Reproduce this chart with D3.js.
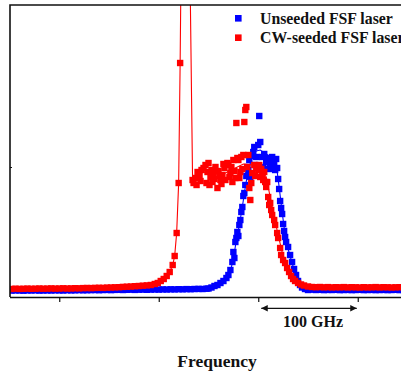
<!DOCTYPE html>
<html><head><meta charset="utf-8">
<script src="https://cdn.jsdelivr.net/npm/d3@7"></script>
<style>html,body{margin:0;padding:0;background:#fff;overflow:hidden}</style>
</head><body>
<svg id="chart" width="401" height="374"></svg>
<script>
// Frequency offset (GHz) and intensity (a.u.) — measured points
const blueFreq = [
-248,-244,-240,-236,-232,-228,-224,-220,-216,-212,-208,-204,-200,-196,-192,-188,-184,-180,-176,-172,
-168,-164,-160,-156,-152,-148,-144,-140,-136,-132,-128,-124,-120,-116,-112,-108,-104,-100,-96,-92,
-88,-84,-80,-76,-72,-68,-64,-60,-56,-52,
-50,-47,-44,-41,-38,-35,-32,-30,-28,-26,-25,-24,-23,-22,-21,-20,-19,-18,-17,-16,-15,-14,-13,-12,-11,-10,-9,-7,-5,-4,-2,0,1,2,4,6,8,10,12,14,16,18,19,20,21,22,23,24,25,26,27,28,30,32,34,36,38,40,42,44,47,50,
54,58,62,66,70,74,78,82,86,90,94,98,102,106,110,114,118,122,126,130,134,138,142,146,150,
-3,5,11,17,-8];
const blueIntensity = [
6.4,6.6,6.5,6.3,6.6,6.5,6.7,6.4,6.5,6.6,6.5,6.7,6.6,6.5,6.8,6.6,6.7,6.9,6.7,6.8,
6.9,7.0,6.8,7.0,7.1,6.9,7.1,7.2,7.0,7.2,7.3,7.1,7.3,7.4,7.2,7.4,7.5,7.4,7.6,7.5,
7.7,7.6,7.8,7.7,7.9,7.8,8.0,8.1,8.0,8.3,
8.5,9.5,11,12,14,16,19,22,27,35,45,39,55,59,65,61,72,77,85,90,101,104,112,121,130,127,137,141,145,150,140,152,181,155,140,143,135,139,134,140,132,138,129,118,108,96,89,83,73,66,60,55,50,42,35,28,22,16,12,9.5,8,7,
7.3,7.0,7.2,6.9,7.1,7.0,7.2,6.9,7.0,7.1,6.9,7.0,7.2,6.9,7.0,7.1,6.9,7.0,7.1,6.9,7.0,7.2,6.9,7.0,7.1,
132,130,128,127,120];
const redFreq = [
-248,-244,-240,-236,-232,-228,-224,-220,-216,-212,-208,-204,-200,-196,-192,-188,-184,-180,-176,-172,
-168,-164,-160,-156,-152,-148,-144,-140,-136,-132,-128,-124,-120,-116,-112,
-108,-104,-101,-98,-95,-92,-89,-86,-84,-82,-80,-78.5,-76,-73.5,-71,-68.5,
-66,-65,-63,-61,-59,-57,-55,-53,-52,-51,-50,-48,-47,-46,-45,-43,-41,-39,-38,-36,-34,-33,-31,-30,-28,-26,-25,-23,-22,-21,-20,-18,-17,-15,-14,-13,-12,-11,-10,-9,-8,-6,-4,-2,0,2,4,6,7,9,10,11,12,13,14,16,17,19,20,22,23,25,27,29,31,33,35,37,40,43,46,50,54,
58,62,66,70,74,78,82,86,90,94,98,102,106,110,114,118,122,126,130,134,138,142,146,150,
-62,-58,-49,-44,-40,-37,-35,-29,-27,-24,-19,-16,-7,-3,1,3,5,8];
const redIntensity = [
8.0,8.3,8.1,8.2,8.4,8.2,8.3,8.5,8.3,8.4,8.6,8.4,8.5,8.7,8.5,8.6,8.8,8.7,8.9,9.0,
8.9,9.1,9.2,9.1,9.4,9.5,9.7,9.8,10.1,10.3,10.5,10.8,11.0,11.3,11.6,
12,13,14,16,18,21,25,32,41,64,114,234,496,667,447,317,
117,114,119,125,121,127,129,132,114,125,134,120,127,115,124,130,109,121,117,122,129,117,134,132,124,115,137,119,174,139,137,125,140,142,175,187,190,130,142,109,97,124,132,129,127,120,122,125,115,115,100,92,94,87,82,77,72,64,59,49,42,37,34,29,25,21,18,16,14,12.5,11.5,10.5,10,
9.8,10.0,9.7,9.9,9.6,9.8,9.7,9.9,9.6,9.8,9.7,9.5,9.8,9.6,9.7,9.9,9.6,9.8,9.7,9.5,9.7,9.8,9.6,9.7,
112,116,112,118,126,113,133,120,130,126,119,128,114,121,132,128,117,110];
// Fitted guide curves
const blueFitFreq = [-250,-150,-80,-50,-44,-38,-32,-28,-25,-22,-19,-16,-13,-10,-6,-2,2,8,14,18,21,24,27,30,34,38,42,46,50,80,150];
const blueFitIntensity = [6.5,7,7.8,8.5,11,14,19,26,38,57,72,90,110,127,140,146,147,143,139,133,110,85,62,48,34,21,12,8.5,7.3,7,7];
const redFitFreq = [-250,-150,-120,-108,-101,-95,-89,-86,-84,-82,-80,-78.5,-76,-73.5,-71,-68.5,-66,-63,-55,-45,-35,-25,-15,-5,2,8,12,16,20,24,28,32,36,40,46,54,80,150];
const redFitIntensity = [8,9,11,12,14,18,25,32,41,64,114,234,496,667,447,317,117,121,125,123,123,128,133,132,128,120,100,80,62,45,32,23,17,14,11.5,10,9.7,9.7];

const seriesNames = ["Unseeded FSF laser", "CW-seeded FSF laser"];
const seriesColors = ["#0000ff", "#ff0000"];
const xTicks = [-200, -100, 0, 100];
const yTicks = [130];
const xLabel = "Frequency";
const spanLabel = "100 GHz";
const spanFrom = 3, spanTo = 99;

const svg = d3.select("#chart");
const font = "'Liberation Serif', 'Times New Roman', serif";
const x = d3.scaleLinear().domain([-250, 150]).range([9.5, 407.5]);
const y = d3.scaleLinear().domain([0, 292]).range([297, 5]);

svg.append("defs").append("clipPath").attr("id", "clip")
  .append("rect").attr("x", 10).attr("y", 5).attr("width", 400).attr("height", 292);

const series = [
  {name: seriesNames[0], color: seriesColors[0],
   data: blueFreq.map((f, i) => [f, blueIntensity[i]]),
   fit: blueFitFreq.map((f, i) => [f, blueFitIntensity[i]])},
  {name: seriesNames[1], color: seriesColors[1],
   data: redFreq.map((f, i) => [f, redIntensity[i]]),
   fit: redFitFreq.map((f, i) => [f, redFitIntensity[i]])}
];

const plot = svg.append("g").attr("clip-path", "url(#clip)");
const line = d3.line().x(d => x(d[0])).y(d => y(d[1]));
const sz = 6.4;
series.forEach(s => {
  plot.append("path").datum(s.fit).attr("d", line)
    .attr("fill", "none").attr("stroke", s.color).attr("stroke-width", 1.1);
  plot.append("g").selectAll("rect").data(s.data).join("rect")
    .attr("x", d => x(d[0]) - sz / 2).attr("y", d => y(d[1]) - sz / 2)
    .attr("width", sz).attr("height", sz).attr("fill", s.color);
});

// frame
svg.append("path").attr("d", `M${x.range()[0] + 0.5},${y(0)}V${y.range()[1]}H${x.range()[1]}`)
  .attr("fill", "none").attr("stroke", "#111").attr("stroke-width", 1.6);

const xAxis = svg.append("g").attr("transform", `translate(0,${y(0)})`)
  .call(d3.axisBottom(x).tickValues(xTicks).tickSize(5).tickSizeOuter(0).tickFormat(""));
xAxis.select(".domain").attr("stroke", "#111").attr("stroke-width", 1.6);
xAxis.selectAll(".tick line").attr("stroke", "#111").attr("stroke-width", 1.2);

const yAxis = svg.append("g").attr("transform", `translate(${x.range()[0] + 0.5},0)`)
  .call(d3.axisRight(y).tickValues(yTicks).tickSize(2).tickFormat(""));
yAxis.select(".domain").remove();
yAxis.selectAll(".tick line").attr("stroke", "#111");

// legend
const leg = svg.append("g");
series.forEach((s, i) => {
  const ly = 18.3 + i * 19.4;
  leg.append("rect").attr("x", 235).attr("y", ly - 3.3).attr("width", 6.6).attr("height", 6.6).attr("fill", s.color);
  leg.append("text").attr("x", 260).attr("y", ly + 5.5).text(s.name)
    .attr("font-family", font).attr("font-weight", "bold").attr("font-size", 15.8).attr("fill", "#111");
});

// 100 GHz span arrow
const defs = svg.select("defs");
defs.append("marker").attr("id", "ah").attr("viewBox", "0 0 10 10").attr("refX", 10).attr("refY", 5)
  .attr("markerWidth", 7).attr("markerHeight", 5).attr("orient", "auto-start-reverse")
  .append("path").attr("d", "M0,0L10,5L0,10z").attr("fill", "#111");
svg.append("line").attr("x1", x(spanFrom)).attr("x2", x(spanTo)).attr("y1", 308.3).attr("y2", 308.3)
  .attr("stroke", "#111").attr("stroke-width", 1.3)
  .attr("marker-start", "url(#ah)").attr("marker-end", "url(#ah)");
svg.append("text").attr("x", (x(spanFrom) + x(spanTo)) / 2 + 4).attr("y", 327).attr("text-anchor", "middle")
  .text(spanLabel).attr("font-family", font).attr("font-weight", "bold").attr("font-size", 16).attr("fill", "#111");

svg.append("text").attr("x", 217).attr("y", 367).attr("text-anchor", "middle")
  .text(xLabel).attr("font-family", font).attr("font-weight", "bold").attr("font-size", 17.5).attr("fill", "#111");
</script>
</body></html>
